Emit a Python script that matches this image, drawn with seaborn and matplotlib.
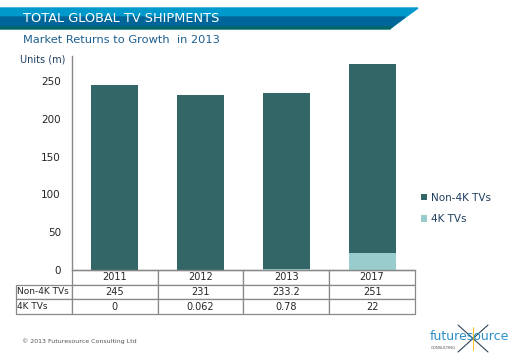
import pandas as pd
import seaborn as sns
import matplotlib.pyplot as plt
from matplotlib.patches import Polygon
from matplotlib.lines import Line2D

# data
years = ["2011", "2012", "2013", "2017"]
non4k = [245, 231, 233.2, 251]
tv4k = [0, 0.062, 0.78, 22]
non4k_labels = ["245", "231", "233.2", "251"]
tv4k_labels = ["0", "0.062", "0.78", "22"]

dark = "#336666"
light = "#99cccc"

df = pd.DataFrame({"year": years, "non4k": non4k, "tv4k": tv4k})
df["total"] = df["non4k"] + df["tv4k"]

sns.set_theme(style="white")
plt.rcParams["font.family"] = ["DejaVu Sans"]

W, H = 520, 360
fig = plt.figure(figsize=(5.2, 3.6), dpi=100)
ax = fig.add_axes([72 / W, 1 - 270 / H, 343 / W, 214 / H])

# stacked: 4K at the bottom, non-4K on top
sns.barplot(data=df, x="year", y="total", color=dark, width=0.55, ax=ax,
            saturation=1, label="Non-4K TVs", linewidth=0)
sns.barplot(data=df, x="year", y="tv4k", color=light, width=0.55, ax=ax,
            saturation=1, label="4K TVs", linewidth=0)

ax.set_ylim(0, 283)
ax.set_yticks(range(0, 251, 50))
ax.tick_params(axis="y", labelsize=7.5, length=0, pad=8)
ax.set_xticks([])
ax.set_xlabel("")
ax.set_ylabel("")
for s in ["top", "right"]:
    ax.spines[s].set_visible(False)
for s in ["left", "bottom"]:
    ax.spines[s].set_color("#888888")
    ax.spines[s].set_linewidth(1)

leg = ax.legend(loc="upper left", bbox_to_anchor=(1.005, 0.38), frameon=False,
                fontsize=7.5, handlelength=0.6, handleheight=0.6,
                handletextpad=0.4, labelspacing=1.1, borderaxespad=0)
for t in leg.get_texts():
    t.set_color("#1f3f5f")

# data table under the axis
cell_text = [[""] + years,
             ["Non-4K TVs"] + non4k_labels,
             ["4K TVs"] + tv4k_labels]
lab_w = 56 / 343
tab = ax.table(cellText=cell_text, colWidths=[56, 86, 86, 86, 86],
               cellLoc="center", bbox=[-lab_w, -44 / 214, 1 + lab_w, 44 / 214])
tab.auto_set_font_size(False)
tab.set_fontsize(7)
for (r, c), cell in tab.get_celld().items():
    cell.set_edgecolor("#888888")
    cell.set_linewidth(0.9)
    if c == 0:
        cell._loc = "left"
        cell.get_text().set_ha("left")
        cell.get_text().set_fontsize(6.5)
        cell.PAD = 0.025
    if r == 0 and c == 0:
        cell.visible_edges = ""

# title banner
fig.patches.append(Polygon([(0, 1 - 8 / H), (418 / W, 1 - 8 / H), (392 / W, 1 - 27 / H), (0, 1 - 27 / H)],
                           closed=True, transform=fig.transFigure, color="#0099cc", zorder=0))
fig.patches.append(Polygon([(0, 1 - 17 / H), (405 / W, 1 - 17 / H), (392 / W, 1 - 27 / H), (0, 1 - 27 / H)],
                           closed=True, transform=fig.transFigure, color="#006699", zorder=0))
fig.patches.append(Polygon([(0, 1 - 27 / H), (392 / W, 1 - 27 / H), (390 / W, 1 - 29 / H), (0, 1 - 29 / H)],
                           closed=True, transform=fig.transFigure, color="#006666", zorder=0))
fig.text(23 / W, 1 - 18 / H, "TOTAL GLOBAL TV SHIPMENTS", color="white", fontsize=9.3,
         va="center", ha="left")
fig.text(23 / W, 1 - 40 / H, "Market Returns to Growth  in 2013", color="#1f5f8f",
         fontsize=8.2, va="center", ha="left")
fig.text(65 / W, 1 - 59 / H, "Units (m)", color="#1f3f5f", fontsize=7, va="center", ha="right")

# footer
fig.text(22 / W, 1 - 341 / H, "\u00a9 2013 Futuresource Consulting Ltd", color="#555555",
         fontsize=4.5, va="center", ha="left")
# logo cross
fig.lines.append(Line2D([458 / W, 488 / W], [1 - 325 / H, 1 - 352 / H], transform=fig.transFigure,
                        color="#334455", linewidth=0.8))
fig.lines.append(Line2D([458 / W, 488 / W], [1 - 352 / H, 1 - 325 / H], transform=fig.transFigure,
                        color="#334455", linewidth=0.8))
fig.lines.append(Line2D([473 / W, 473 / W], [1 - 327 / H, 1 - 350 / H], transform=fig.transFigure,
                        color="#f5b800", linewidth=0.6))
fig.text(430 / W, 1 - 337 / H, "futuresource", color="#2a8fc8", fontsize=9,
         va="center", ha="left")
fig.text(431 / W, 1 - 348 / H, "CONSULTING", color="#555555", fontsize=2.8,
         va="center", ha="left")

fig.savefig("out.png", dpi=100)
